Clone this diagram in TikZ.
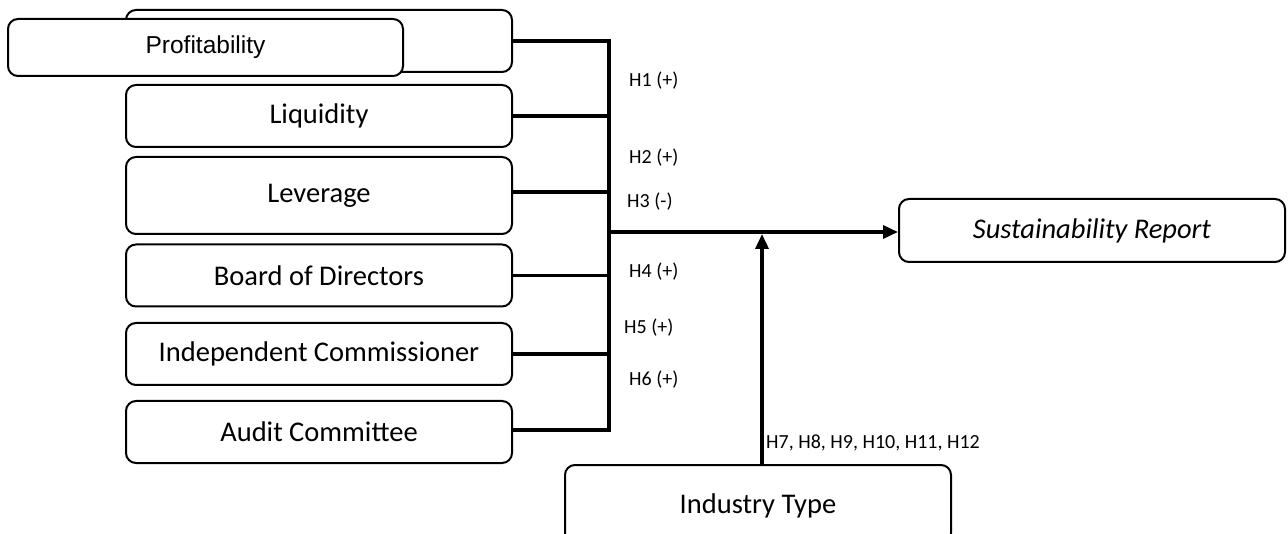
\documentclass[tikz,border=0pt]{standalone}
\usepackage{fontspec}
\setmainfont{Carlito}
\newfontfamily\arialfont{Liberation Sans}
\usetikzlibrary{arrows.meta,positioning,calc}

\begin{document}
\begin{tikzpicture}[x=1pt,y=-1pt,
 var/.style={rounded corners=10pt,draw,line width=2pt,fill=white,minimum width=386pt,minimum height=62pt,inner sep=0pt,font=\fontsize{28.5}{32}\selectfont},
 hyp/.style={anchor=west,inner sep=0pt,font=\fontsize{20}{24}\selectfont},
 bus/.style={line width=3.5pt},
 a/.style={-{Triangle[length=15pt,width=13pt]},line width=3.5pt}]
\useasboundingbox (0,0) rectangle (1288,534);
\node[var] (v1) at (319,41) {};
\node[var,minimum width=395pt,minimum height=57pt,font=\arialfont\fontsize{24.5}{28}\selectfont] (prof) at (205.5,47.5) {Profitability};
\node[var] (v2) at (319,116) {Liquidity};
\node[var,minimum height=77pt] (v3) at (319,195.5) {Leverage};
\node[var] (v4) at (319,275.5) {Board of Directors};
\node[var] (v5) at (319,354) {Independent Commissioner};
\node[var] (v6) at (319,432) {Audit Committee};
\node[var,minimum height=63pt] (sr) at (1092,230.5) {\itshape Sustainability Report};
\node[var,minimum height=78pt,text depth=0pt] (it) at (758,504) {Industry Type};

\coordinate (bm) at (609,232);
\coordinate (mod) at (762,234);
\draw[bus] (v1.east) -| (609,430) -- (v6.east |- 0,430);
\draw[bus] (v2.east) -- (v2.east -| bm);
\draw[bus] (v3.east |- 0,192) -- (609,192);
\draw[bus] (v4.east) -- (v4.east -| bm);
\draw[bus] (v5.east) -- (v5.east -| bm);
\draw[a] (bm) -- (bm -| sr.west);
\draw[a] (it.north -| mod) -- (mod);

\node[hyp] (h1) at (629,81) {H1 (+)};
\node[hyp] (h2) at (629,158) {H2 (+)};
\node[hyp] (h3) at (627,202) {H3 (-)};
\node[hyp] (h4) at (629,272) {H4 (+)};
\node[hyp] (h5) at (624,328) {H5 (+)};
\node[hyp] (h6) at (629,380) {H6 (+)};
\node[hyp] (h7) at (766,443) {H7, H8, H9, H10, H11, H12};
\end{tikzpicture}
\end{document}
